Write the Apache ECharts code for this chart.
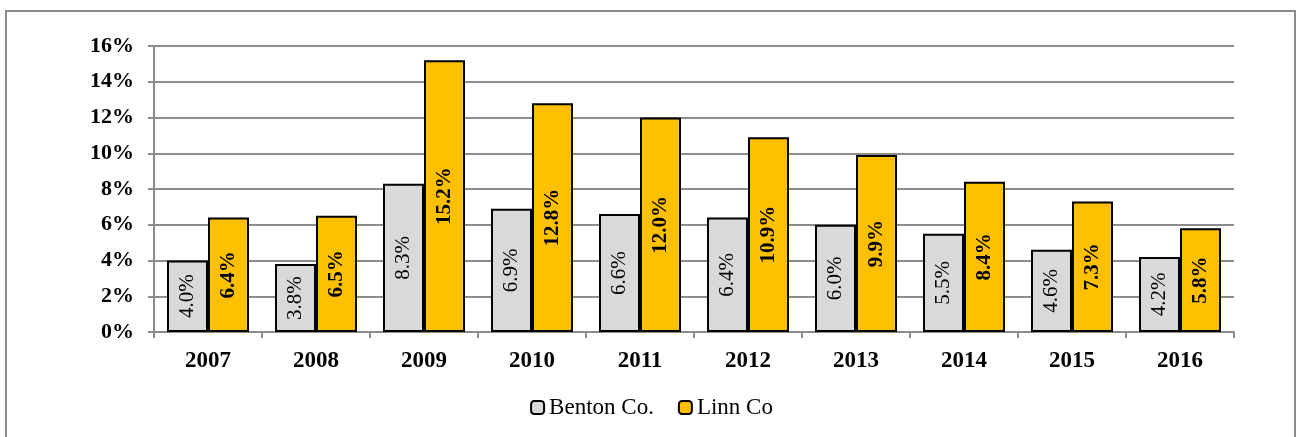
<!DOCTYPE html>
<html>
<head>
<meta charset="utf-8">
<script src="https://cdn.jsdelivr.net/npm/echarts@6/dist/echarts.min.js"></script>
<style>
  html, body { margin: 0; padding: 0; background: #fff; }
  #frame { position: absolute; left: 5px; top: 10px; width: 1291px; height: 430px; border: 2px solid #8c8c8c; box-sizing: border-box; }
  #chart { width: 1303px; height: 437px; }
</style>
</head>
<body>
<div id="frame"></div>
<div id="chart"></div>
<script>
// 年份 + 两县失业率（%）
const years = ['2007', '2008', '2009', '2010', '2011', '2012', '2013', '2014', '2015', '2016'];
const benton = [4.0, 3.8, 8.3, 6.9, 6.6, 6.4, 6.0, 5.5, 4.6, 4.2];
const linn = [6.4, 6.5, 15.2, 12.8, 12.0, 10.9, 9.9, 8.4, 7.3, 5.8];
const yTicks = [0, 2, 4, 6, 8, 10, 12, 14, 16];

const font = '"Liberation Serif", "Times New Roman", serif';
const chart = echarts.init(document.getElementById('chart'));

const barLabel = (bold) => ({
  show: true,
  position: 'inside',
  rotate: 90,
  fontFamily: font,
  fontSize: 21,
  fontWeight: bold ? 'bold' : 'normal',
  color: '#000',
  formatter: p => p.value.toFixed(1) + '%'
});

chart.setOption({
  animation: false,
  textStyle: { fontFamily: font },
  grid: { left: 154, right: 69, top: 46, bottom: 105 },
  legend: {
    bottom: 13,
    left: 'center',
    itemWidth: 13,
    itemHeight: 13,
    itemGap: 24,
    textStyle: { fontFamily: font, fontSize: 23, color: '#000' },
    data: ['Benton Co.', 'Linn Co']
  },
  xAxis: {
    type: 'category',
    data: years,
    axisLine: { lineStyle: { color: '#8c8c8c', width: 2 } },
    axisTick: { show: true, length: 6, alignWithLabel: false, lineStyle: { color: '#8c8c8c', width: 2 } },
    axisLabel: { fontFamily: font, fontSize: 23, fontWeight: 'bold', color: '#000', margin: 18 }
  },
  yAxis: {
    type: 'value',
    min: yTicks[0],
    max: yTicks[yTicks.length - 1],
    interval: 2,
    axisLine: { show: true, lineStyle: { color: '#8c8c8c', width: 2 } },
    axisTick: { show: true, length: 6, lineStyle: { color: '#8c8c8c', width: 2 } },
    splitLine: { lineStyle: { color: '#8c8c8c', width: 2 } },
    axisLabel: { fontFamily: font, fontSize: 22, fontWeight: 'bold', color: '#000', margin: 20, formatter: '{value}%' }
  },
  series: [
    {
      name: 'Benton Co.',
      type: 'bar',
      data: benton,
      barWidth: 41,
      barGap: '0%',
      itemStyle: { color: '#d9d9d9', borderColor: '#000', borderWidth: 2 },
      label: barLabel(false)
    },
    {
      name: 'Linn Co',
      type: 'bar',
      data: linn,
      barWidth: 41,
      itemStyle: { color: '#ffc000', borderColor: '#000', borderWidth: 2 },
      label: barLabel(true)
    }
  ]
});
</script>
</body>
</html>
